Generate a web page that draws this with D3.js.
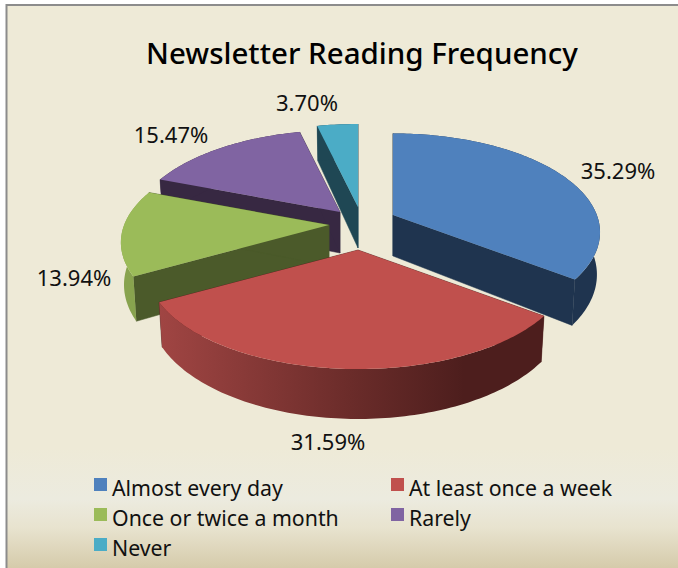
<!DOCTYPE html>
<html>
<head>
<meta charset="utf-8">
<script src="https://cdn.jsdelivr.net/npm/d3@7"></script>
<style>
html, body { margin: 0; padding: 0; background: #fff; }
svg { display: block; }
</style>
</head>
<body>
<script>
const categories = ["Almost every day", "At least once a week", "Once or twice a month", "Rarely", "Never"];
const shares = [35.29, 31.59, 13.94, 15.47, 3.70];

const topColors = ["#4f81bd", "#c0504d", "#9bbb59", "#8064a2", "#4bacc6"];
const wallColors = ["#1f344f", "#4d1e1d", "#4b5a2a", "#372842", "#1f4754"];
const rimColors = ["#1f344f", "url(#redRim)", "#88a34e", "#372842", "#1f4754"];

// where each exploded slice has its tip, and how far its rim reaches
const tips = [[393, 215], [358, 250], [329, 225], [340, 212], [358, 207]];
const reach = [0.98, 1, 0.985, 0.985, 1];
const labelPos = [[618, 179], [328, 450], [74, 286], [171, 143], [307, 111]];
const drawOrder = [4, 3, 2, 0, 1];

const width = 678, height = 568;
const rx = 208, ry = 97.8, persp = 0.1785, depth = 41, bottomScale = 0.985;

const svg = d3.select("body").append("svg")
    .attr("width", width)
    .attr("height", height);

const defs = svg.append("defs");
const bg = defs.append("linearGradient").attr("id", "bg").attr("x1", 0).attr("y1", 0).attr("x2", 0).attr("y2", 1);
bg.append("stop").attr("offset", "0.78").attr("stop-color", "#eeead7");
bg.append("stop").attr("offset", "0.87").attr("stop-color", "#ecebdf");
bg.append("stop").attr("offset", "0.92").attr("stop-color", "#e8e3cf");
bg.append("stop").attr("offset", "1").attr("stop-color", "#d3c8a6");

const redRim = defs.append("linearGradient").attr("id", "redRim")
    .attr("gradientUnits", "userSpaceOnUse").attr("x1", 160).attr("y1", 0).attr("x2", 540).attr("y2", 0);
redRim.append("stop").attr("offset", "0").attr("stop-color", "#a04543");
redRim.append("stop").attr("offset", "0.5").attr("stop-color", "#6b2c2a");
redRim.append("stop").attr("offset", "0.8").attr("stop-color", "#4d1e1d");
redRim.append("stop").attr("offset", "1").attr("stop-color", "#4d1e1d");

svg.append("rect")
    .attr("x", 6.5).attr("y", 5)
    .attr("width", width).attr("height", height)
    .attr("fill", "url(#bg)")
    .attr("stroke", "#8c8c8c")
    .attr("stroke-width", 2);

const font = "'Noto Sans', 'Open Sans', sans-serif";

svg.append("text")
    .attr("x", 362).attr("y", 64)
    .attr("text-anchor", "middle")
    .attr("font-family", font)
    .attr("font-weight", 500)
    .attr("font-size", 29.5)
    .attr("fill", "#000")
    .text("Newsletter Reading Frequency");

const pie = d3.pie().sort(null).value(d => d);
const arcs = pie(shares);

// perspective view of the pie plane, a is clockwise from twelve o'clock
function topPoint(tip, a, r) {
    const X = r * Math.sin(a), Y = r * Math.cos(a);
    const s = 1 / (1 + persp * Y);
    return [tip[0] + rx * X * s, tip[1] - ry * Y * s];
}
function lowPoint(tip, a, r) {
    const X = r * Math.sin(a), Y = r * Math.cos(a);
    const s = 1 / (1 + persp * Y);
    return [tip[0] + bottomScale * rx * X * s, tip[1] - ry * Y * s + depth * s];
}
function arcPoints(fn, tip, a0, a1, r) {
    const n = Math.ceil((a1 - a0) / 0.02);
    return d3.range(n + 1).map(i => fn(tip, a0 + (a1 - a0) * i / n, r));
}
const poly = d3.line().curve(d3.curveLinear);

const slices = svg.append("g").selectAll("g")
    .data(drawOrder)
    .enter().append("g");

slices.each(function(i) {
    const g = d3.select(this);
    const d = arcs[i], tip = tips[i], r = reach[i];
    [d.startAngle, d.endAngle].forEach(a => {
        g.append("path")
            .attr("d", poly([topPoint(tip, a, 0), topPoint(tip, a, r), lowPoint(tip, a, r), lowPoint(tip, a, 0)]) + "Z")
            .attr("fill", wallColors[i])
            .attr("stroke", wallColors[i])
            .attr("stroke-width", 0.5);
    });
    g.append("path")
        .attr("d", poly(arcPoints(topPoint, tip, d.startAngle, d.endAngle, r)
            .concat(arcPoints(lowPoint, tip, d.startAngle, d.endAngle, r).reverse())) + "Z")
        .attr("fill", rimColors[i]);
    g.append("path")
        .attr("d", poly([topPoint(tip, 0, 0)].concat(arcPoints(topPoint, tip, d.startAngle, d.endAngle, r))) + "Z")
        .attr("fill", topColors[i]);
});

svg.append("g").selectAll("text")
    .data(shares)
    .enter().append("text")
    .attr("x", (d, i) => labelPos[i][0])
    .attr("y", (d, i) => labelPos[i][1])
    .attr("text-anchor", "middle")
    .attr("font-family", font)
    .attr("font-size", 22)
    .attr("fill", "#111")
    .text(d => d3.format(".2f")(d) + "%");

const legend = svg.append("g").selectAll("g")
    .data(categories)
    .enter().append("g")
    .attr("transform", (d, i) => "translate(" + (i % 2 ? 391 : 94) + "," + (478 + 30 * Math.floor(i / 2)) + ")");

legend.append("rect")
    .attr("width", 13)
    .attr("height", 13)
    .attr("fill", (d, i) => topColors[i]);

legend.append("text")
    .attr("x", 18)
    .attr("y", 18)
    .attr("font-family", font)
    .attr("font-size", 21.3)
    .attr("fill", "#111")
    .text(d => d);
</script>
</body>
</html>
